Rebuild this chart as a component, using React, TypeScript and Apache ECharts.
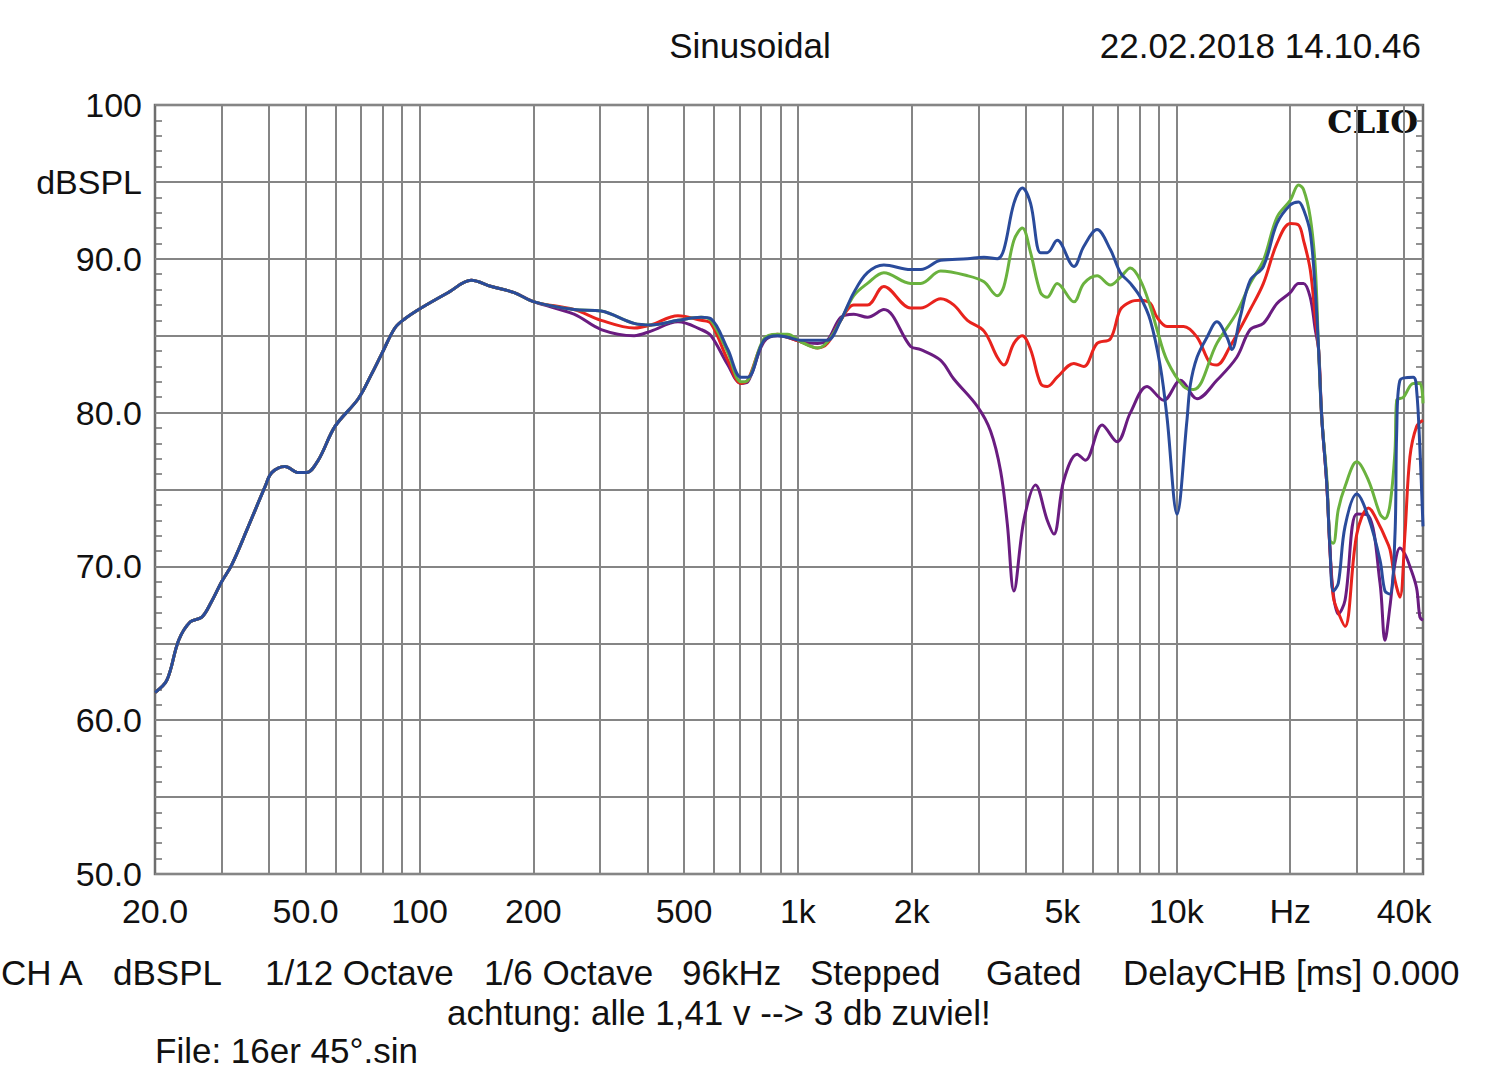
import React, { useEffect, useRef } from "react";
import * as echarts from "echarts";

// ---------- data ----------
// common low-frequency part (all four curves coincide)
const LOW_FREQ = [20, 21.5, 23.1, 24.8, 26.6, 28.2, 30.0, 31.9, 35.3, 39.1, 40.7, 44.1, 47.9, 50.3, 54.0, 59.8, 68.9, 74.7, 79.4, 86.1, 91.5, 101, 119, 137, 155, 178, 201];
const LOW_DB = [61.8, 62.6, 65.2, 66.4, 66.7, 67.7, 69.0, 70.1, 72.6, 75.2, 76.1, 76.5, 76.1, 76.1, 76.9, 79.1, 80.9, 82.5, 83.8, 85.5, 86.1, 86.8, 87.8, 88.6, 88.2, 87.8, 87.2];

const BLUE_FREQ = [256, 302, 369, 409, 482, 555, 589, 653, 707, 737, 813, 884, 939, 1018, 1127, 1197, 1298, 1405, 1527, 1687, 1986, 2112, 2384, 2805, 3103, 3365, 3502, 3722, 3918, 4120, 4377, 4560, 4844, 5362, 5694, 6174, 6696, 7117, 7564, 8038, 8538, 9074, 9450, 10046, 10670, 10890, 11345, 12055, 12800, 13610, 14020, 14750, 15680, 16990, 18450, 20000, 21040, 21690, 22590, 23290, 23770, 24230, 24980, 25480, 26000, 26800, 27920, 29990, 32190, 34550, 35600, 36700, 37840, 38220, 38990, 42280, 43150, 44040, 44870];
const BLUE_DB = [86.7, 86.6, 85.8, 85.7, 86.0, 86.2, 86.1, 84.1, 82.3, 82.3, 84.7, 85.0, 84.9, 84.7, 84.7, 84.7, 86.0, 87.8, 89.1, 89.6, 89.3, 89.3, 89.9, 90.0, 90.1, 90.0, 90.6, 93.6, 94.6, 93.6, 90.4, 90.4, 91.2, 89.5, 90.8, 91.9, 90.6, 89.1, 88.4, 87.5, 86.0, 83.0, 79.7, 73.4, 79.5, 81.8, 83.6, 84.9, 85.9, 84.9, 84.1, 86.2, 88.6, 89.5, 92.3, 93.5, 93.7, 93.2, 91.7, 88.0, 84.1, 79.7, 75.4, 71.1, 68.4, 68.9, 72.6, 74.7, 73.2, 70.4, 68.4, 68.2, 72.1, 78.6, 82.1, 82.3, 81.5, 77.6, 72.6];

const GREEN_FREQ = [256, 302, 369, 409, 482, 555, 589, 653, 707, 737, 813, 884, 939, 1018, 1127, 1197, 1298, 1405, 1527, 1687, 1986, 2112, 2384, 2805, 3103, 3365, 3502, 3722, 3918, 4120, 4377, 4560, 4844, 5362, 5694, 6174, 6696, 7117, 7564, 8038, 8538, 8892, 9450, 10457, 11117, 12800, 14450, 15680, 16990, 18450, 20000, 21040, 21690, 22590, 23290, 23770, 24230, 24980, 25480, 26000, 26800, 27920, 29990, 32190, 34550, 35600, 36700, 37840, 38220, 39810, 42280, 44040, 44870];
const GREEN_DB = [86.7, 86.6, 85.8, 85.7, 86.0, 86.2, 86.0, 83.9, 82.0, 82.1, 84.8, 85.1, 85.1, 84.6, 84.2, 84.6, 86.0, 87.6, 88.4, 89.1, 88.4, 88.4, 89.2, 88.9, 88.5, 87.6, 88.2, 91.2, 92.0, 90.4, 87.8, 87.5, 88.4, 87.2, 88.4, 88.9, 88.3, 88.8, 89.4, 88.6, 86.9, 85.4, 83.4, 81.7, 81.5, 84.5, 86.5, 88.4, 89.9, 92.7, 93.8, 94.8, 94.5, 92.7, 89.5, 84.1, 79.7, 75.8, 71.7, 71.5, 73.7, 75.2, 76.8, 75.6, 73.4, 73.1, 74.0, 77.5, 80.8, 81.0, 81.9, 81.9, 80.6];

const RED_FREQ = [256, 302, 369, 409, 482, 555, 589, 653, 707, 737, 813, 884, 939, 1018, 1127, 1197, 1298, 1405, 1527, 1687, 1986, 2112, 2384, 2580, 2805, 3103, 3365, 3502, 3722, 3918, 4120, 4377, 4560, 4844, 5362, 5694, 6174, 6696, 7117, 7564, 8038, 8538, 8892, 9450, 10457, 11345, 12300, 12800, 13870, 15680, 16990, 18450, 20000, 21040, 21690, 22590, 23290, 23770, 24230, 24980, 25480, 26000, 26800, 27920, 29990, 32190, 34550, 35600, 36700, 37840, 38990, 40200, 41430, 43150, 44870];
const RED_DB = [86.7, 86.0, 85.5, 85.7, 86.3, 86.0, 85.8, 83.4, 81.9, 82.1, 84.7, 85.1, 84.9, 84.6, 84.2, 84.5, 86.0, 87.0, 87.0, 88.2, 86.8, 86.8, 87.4, 87.0, 86.0, 85.3, 83.6, 83.1, 84.5, 85.0, 84.1, 81.9, 81.7, 82.3, 83.2, 83.0, 84.5, 84.8, 86.7, 87.2, 87.3, 87.1, 86.2, 85.6, 85.6, 84.9, 83.2, 83.1, 84.3, 86.7, 88.4, 91.0, 92.3, 92.2, 91.2, 89.3, 86.2, 84.1, 79.7, 75.4, 71.0, 68.0, 67.0, 66.1, 72.1, 73.8, 72.6, 71.9, 71.1, 69.1, 68.0, 72.1, 77.1, 79.1, 79.5];

const PURPLE_FREQ = [256, 302, 369, 409, 482, 555, 589, 653, 707, 737, 813, 884, 939, 1018, 1127, 1197, 1298, 1405, 1527, 1687, 1986, 2112, 2384, 2580, 2980, 3229, 3433, 3575, 3722, 3956, 4247, 4560, 4748, 5043, 5471, 5750, 6368, 6974, 7564, 8370, 9265, 10255, 11345, 12800, 14450, 15680, 16990, 18450, 20000, 21040, 21690, 22590, 23290, 23770, 24230, 24980, 25480, 26000, 26800, 27920, 29990, 32190, 34550, 35600, 36700, 37840, 38990, 40200, 41430, 43150, 44040, 44870];
const PURPLE_DB = [86.4, 85.4, 85.0, 85.3, 85.9, 85.4, 85.0, 83.1, 81.9, 82.0, 84.6, 85.0, 84.9, 84.6, 84.5, 84.7, 86.2, 86.4, 86.2, 86.7, 84.3, 84.1, 83.4, 82.2, 80.4, 78.8, 76.2, 72.8, 68.4, 73.0, 75.3, 73.0, 72.1, 75.6, 77.3, 76.9, 79.2, 78.1, 80.0, 81.7, 80.8, 82.1, 80.9, 82.1, 83.6, 85.4, 85.8, 87.1, 87.8, 88.4, 88.4, 87.5, 85.4, 84.1, 79.7, 75.4, 71.1, 68.2, 66.9, 67.8, 73.4, 73.3, 68.9, 65.2, 67.4, 70.2, 71.2, 70.8, 70.0, 68.6, 66.7, 66.5];

// axis ticks
const X_GRID_FREQS = [30, 40, 50, 60, 70, 80, 90, 100, 200, 300, 400, 500, 600, 700, 800, 900, 1000, 2000, 3000, 4000, 5000, 6000, 7000, 8000, 9000, 10000, 20000, 30000, 40000];
const X_LABEL_FREQS = [20, 50, 100, 200, 500, 1000, 2000, 5000, 10000, 20000, 40000];
const X_LABEL_TEXTS = ["20.0", "50.0", "100", "200", "500", "1k", "2k", "5k", "10k", "Hz", "40k"];
const Y_LABEL_VALUES = [100, 95, 90, 80, 70, 60, 50];
const Y_LABEL_TEXTS = ["100", "dBSPL", "90.0", "80.0", "70.0", "60.0", "50.0"];

const FONT = '"Liberation Sans", Arial, sans-serif';

function pairs(lowF: number[], lowD: number[], f: number[], d: number[]) {
  const F = lowF.concat(f);
  const D = lowD.concat(d);
  return F.map((x, i) => [x, D[i]]);
}

export default function App() {
  const ref = useRef<HTMLDivElement>(null);
  useEffect(() => {
    if (!ref.current) return;
    const chart = echarts.init(ref.current, null, { renderer: "svg" });

    const xLabel = (v: number) => {
      for (let i = 0; i < X_LABEL_FREQS.length; i++) {
        if (Math.abs(v - X_LABEL_FREQS[i]) / X_LABEL_FREQS[i] < 0.01) return X_LABEL_TEXTS[i];
      }
      return "";
    };
    const yLabel = (v: number) => {
      for (let i = 0; i < Y_LABEL_VALUES.length; i++) {
        if (Math.abs(v - Y_LABEL_VALUES[i]) < 0.01) return Y_LABEL_TEXTS[i];
      }
      return "";
    };

    const lineSeries = (name: string, color: string, data: number[][]) => ({
      name,
      type: "line",
      data,
      showSymbol: false,
      smooth: 0.35,
      lineStyle: { color, width: 3 },
      itemStyle: { color },
      silent: true,
    });

    const txt = (text: string, x: number, y: number, align: string, size = 35, extra: any = {}) => ({
      type: "text",
      x,
      y,
      silent: true,
      style: {
        text,
        fill: "#111111",
        fontSize: size,
        fontFamily: FONT,
        textAlign: align,
        textVerticalAlign: "middle",
        align,
        verticalAlign: "middle",
        ...extra,
      },
    });

    const yAxisBase = {
      type: "value",
      min: 50,
      max: 100,
      interval: 5,
      axisLine: { show: false },
      axisTick: { show: false, inside: true },
      minorTick: { show: true, splitNumber: 5, length: 7, lineStyle: { color: "#6e6e6e", width: 1.5 } },
    };

    chart.setOption({
      animation: false,
      backgroundColor: "#ffffff",
      grid: {
        left: 155,
        right: 77,
        top: 105,
        bottom: 212,
        show: true,
        borderColor: "#6e6e6e",
        borderWidth: 2.5,
        backgroundColor: "transparent",
      },
      xAxis: {
        type: "log",
        logBase: 10,
        min: 20,
        max: 44870,
        axisLine: { show: false },
        axisTick: { show: false, customValues: X_GRID_FREQS },
        axisLabel: {
          customValues: X_LABEL_FREQS,
          formatter: xLabel,
          margin: 20,
          fontSize: 34,
          color: "#111111",
          fontFamily: FONT,
        },
        splitLine: { show: true, lineStyle: { color: "#858585", width: 2 } },
      },
      yAxis: [
        {
          ...yAxisBase,
          position: "left",
          axisLabel: { formatter: yLabel, margin: 13, fontSize: 34, color: "#111111", fontFamily: FONT },
          splitLine: { show: true, lineStyle: { color: "#858585", width: 2 } },
        },
        {
          ...yAxisBase,
          position: "right",
          axisLabel: { show: false },
          splitLine: { show: false },
        },
      ],
      series: [
        lineSeries("purple", "#6a1c80", pairs(LOW_FREQ, LOW_DB, PURPLE_FREQ, PURPLE_DB)),
        lineSeries("red", "#e8231d", pairs(LOW_FREQ, LOW_DB, RED_FREQ, RED_DB)),
        lineSeries("green", "#6ab23e", pairs(LOW_FREQ, LOW_DB, GREEN_FREQ, GREEN_DB)),
        lineSeries("blue", "#2a4b9b", pairs(LOW_FREQ, LOW_DB, BLUE_FREQ, BLUE_DB)),
      ],
      graphic: [
        txt("Sinusoidal", 750, 45, "center"),
        txt("22.02.2018 14.10.46", 1421, 45, "right"),
        txt("CLIO", 1418, 122, "right", 32, { fontFamily: '"DejaVu Serif", serif', fontWeight: "bold" }),
        txt("CH A", 1, 972, "left"),
        txt("dBSPL", 113, 972, "left"),
        txt("1/12 Octave", 265, 972, "left"),
        txt("1/6 Octave", 484, 972, "left"),
        txt("96kHz", 682, 972, "left"),
        txt("Stepped", 810, 972, "left"),
        txt("Gated", 986, 972, "left"),
        txt("DelayCHB [ms] 0.000", 1123, 972, "left"),
        txt("achtung: alle 1,41 v --> 3 db zuviel!", 447, 1012, "left"),
        txt("File: 16er 45°.sin", 155, 1050, "left"),
      ],
    });

    return () => {
      chart.dispose();
    };
  }, []);

  return (
    <div
      ref={ref}
      style={{ position: "absolute", left: 0, top: 0, width: 1500, height: 1086, background: "#ffffff" }}
    />
  );
}
